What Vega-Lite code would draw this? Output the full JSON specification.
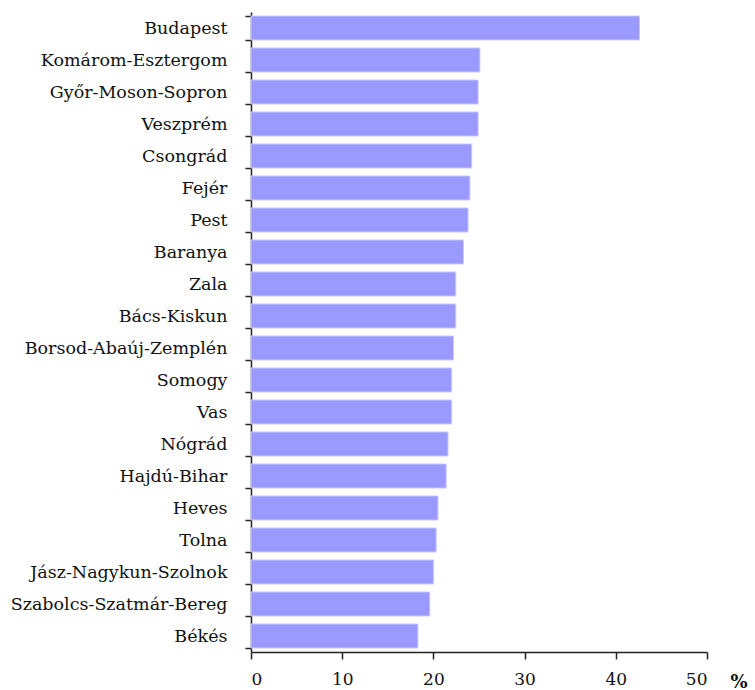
{
  "$schema": "https://vega.github.io/schema/vega-lite/v6.json",
  "width": 456,
  "height": 640,
  "autosize": {"type": "none"},
  "padding": {"left": 251, "top": 12, "right": 48, "bottom": 38},
  "background": "white",
  "config": {"view": {"stroke": null}},
  "data": {"values": [
    {"county": "Budapest", "value": 42.6},
    {"county": "Komárom-Esztergom", "value": 25.1},
    {"county": "Győr-Moson-Sopron", "value": 24.9},
    {"county": "Veszprém", "value": 24.9},
    {"county": "Csongrád", "value": 24.2},
    {"county": "Fejér", "value": 24.0},
    {"county": "Pest", "value": 23.8},
    {"county": "Baranya", "value": 23.3},
    {"county": "Zala", "value": 22.45},
    {"county": "Bács-Kiskun", "value": 22.45},
    {"county": "Borsod-Abaúj-Zemplén", "value": 22.2},
    {"county": "Somogy", "value": 22.0},
    {"county": "Vas", "value": 22.0},
    {"county": "Nógrád", "value": 21.6},
    {"county": "Hajdú-Bihar", "value": 21.4},
    {"county": "Heves", "value": 20.5},
    {"county": "Tolna", "value": 20.3},
    {"county": "Jász-Nagykun-Szolnok", "value": 20.0},
    {"county": "Szabolcs-Szatmár-Bereg", "value": 19.6},
    {"county": "Békés", "value": 18.3}
  ]},
  "mark": {"type": "bar", "color": "#9999ff", "stroke": "#c8c8ff", "strokeWidth": 1},
  "encoding": {
    "y": {
      "field": "county", "type": "nominal", "sort": null,
      "scale": {"paddingInner": 0.25, "paddingOuter": 0.125},
      "axis": {
        "title": null, "tickBand": "extent", "tickSize": 6, "tickColor": "#222", "tickWidth": 1.5,
        "domainColor": "#222", "domainWidth": 1.5,
        "labelFont": "DejaVu Serif", "labelFontSize": 17.5, "labelColor": "#111",
        "labelPadding": 18, "labelLimit": 0, "grid": false
      }
    },
    "x": {
      "field": "value", "type": "quantitative",
      "scale": {"domain": [0, 50], "nice": false},
      "axis": {
        "values": [0, 10, 20, 30, 40, 50], "grid": false,
        "tickSize": 7, "tickColor": "#222", "tickWidth": 1.5,
        "domainColor": "#222", "domainWidth": 1.5,
        "labelFont": "DejaVu Serif", "labelFontSize": 17, "labelColor": "#111", "labelPadding": 12,
        "title": "%", "titleFont": "DejaVu Serif", "titleFontSize": 18, "titleFontWeight": "bold",
        "titleColor": "#111", "titleAnchor": "start", "titleAlign": "left", "titleBaseline": "alphabetic",
        "titleX": 479, "titleY": 35
      }
    }
  }
}
